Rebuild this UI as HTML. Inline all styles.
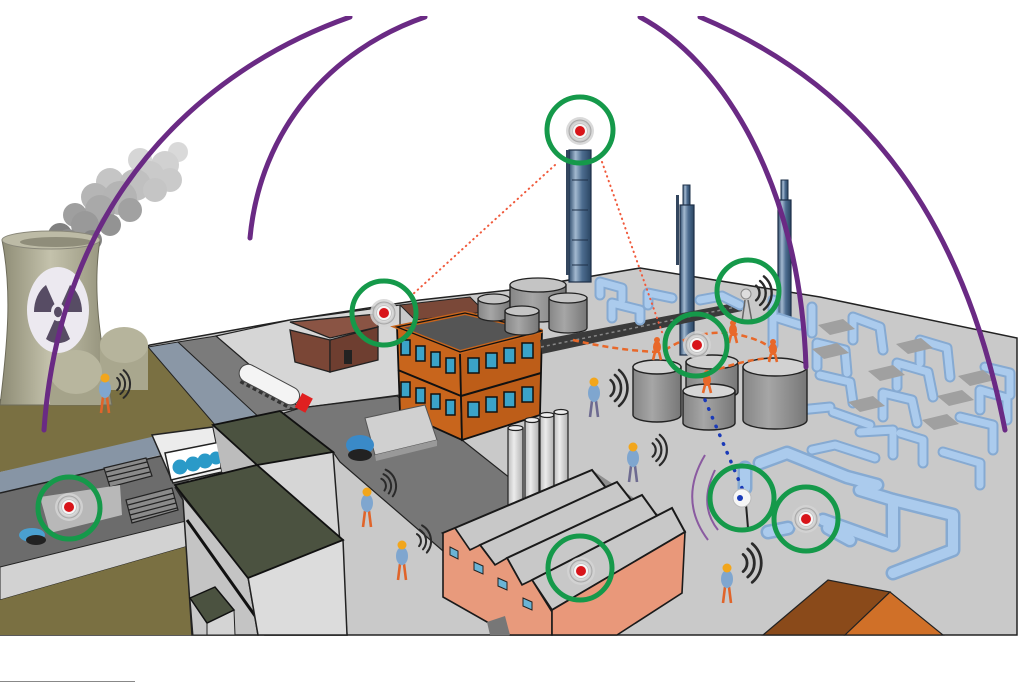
<!DOCTYPE html>
<html><head><meta charset="utf-8"><style>html,body{margin:0;padding:0;background:#fff;}svg{display:block}</style></head>
<body>
<svg width="1024" height="683" viewBox="0 0 1024 683" xmlns="http://www.w3.org/2000/svg">
<defs>
 <linearGradient id="tw" x1="0" x2="1"><stop offset="0" stop-color="#8d8b74"/><stop offset="0.45" stop-color="#c4c2ac"/><stop offset="1" stop-color="#8f8d76"/></linearGradient>
 <linearGradient id="col" x1="0" x2="1"><stop offset="0" stop-color="#2f4c6c"/><stop offset="0.3" stop-color="#a3b9d0"/><stop offset="0.6" stop-color="#4d6d90"/><stop offset="1" stop-color="#2a4562"/></linearGradient>
 <linearGradient id="cyl" x1="0" x2="1"><stop offset="0" stop-color="#868686"/><stop offset="0.4" stop-color="#a6a6a6"/><stop offset="1" stop-color="#777"/></linearGradient>
 <linearGradient id="chim" x1="0" x2="1"><stop offset="0" stop-color="#bdbdbd"/><stop offset="0.4" stop-color="#ececec"/><stop offset="1" stop-color="#b0b0b0"/></linearGradient>
 <radialGradient id="dev"><stop offset="0" stop-color="#fff"/><stop offset="0.6" stop-color="#eee"/><stop offset="1" stop-color="#c0c0c0"/></radialGradient>
 <g id="sig"><path d="M5.1,-6.1 A8,8 0 0,1 5.1,6.1 M8.4,-10 A13,13 0 0,1 8.4,10 M11.6,-13.8 A18,18 0 0,1 11.6,13.8" fill="none" stroke="#2a2a2a" stroke-width="2" stroke-linecap="round"/></g>
 <g id="dv"><circle r="14" fill="#d4d4d4" opacity="0.85"/><circle r="11" fill="url(#dev)" stroke="#a8a8a8" stroke-width="1"/><circle r="7.5" fill="#f6f6f6" stroke="#c4c4c4"/><circle r="5" fill="#d8141a"/></g>
 <g id="wo"><path d="M-2,-16 L-4,0 M2,-16 L4,0" stroke="#e0642a" stroke-width="2.6" fill="none"/><ellipse cx="0" cy="-24" rx="6" ry="9" fill="#7fa6cf"/><circle cx="0" cy="-35" r="4.5" fill="#f2a61c"/></g>
 <g id="wp"><path d="M-2,-16 L-4,0 M2,-16 L4,0" stroke="#6d6a90" stroke-width="2.6" fill="none"/><ellipse cx="0" cy="-24" rx="6" ry="9" fill="#7fa6cf"/><circle cx="0" cy="-35" r="4.5" fill="#f2a61c"/></g>
 <g id="wr"><path d="M-2,-8 L-4,0 M2,-8 L4,0" stroke="#e8682a" stroke-width="2.6" fill="none"/><ellipse cx="0" cy="-13" rx="4" ry="6" fill="#e8682a"/><circle cx="0" cy="-20" r="3" fill="#e8682a"/></g>
 <g id="pipes">
  <path d="M600,295 L600,282 L622,288 L622,300"/>
  <path d="M612,318 L612,303 L640,310 L640,320"/>
  <path d="M648,305 L648,293 L672,298"/>
  <path d="M700,300 L722,296 L740,305"/>
  <path d="M773,300 L773,345"/>
  <path d="M778,318 L800,325"/>
  <path d="M812,307 L812,333"/>
  <path d="M853,340 L853,317 L880,327 L883,350"/>
  <path d="M920,363 L920,340 L947,348 L950,377"/>
  <path d="M985,367 L1010,373 L1010,395"/>
  <path d="M817,367 L817,343 L845,350 L847,373"/>
  <path d="M897,387 L897,363 L928,372 L933,397"/>
  <path d="M980,410 L980,390 L1007,398 L1007,420"/>
  <path d="M820,375 L850,382 L853,403"/>
  <path d="M883,417 L883,393 L912,400 L917,423"/>
  <path d="M960,417 L993,425 L993,450"/>
  <path d="M800,410 L830,407"/>
  <path d="M833,412 L870,425"/>
  <path d="M860,432 L893,430 L893,455"/>
  <path d="M900,433 L923,440 L923,463"/>
  <path d="M943,452 L980,463 L980,485"/>
  <path d="M812,450 L835,445 L875,458"/>
  <path d="M780,365 L780,395 L800,400"/>
 </g>
 <g id="bpipes">
  <path d="M760,463 L787,453 L847,477 L877,485"/>
  <path d="M823,520 L893,545 L893,500 L953,515 L953,550 L893,573"/>
  <path d="M860,490 L893,500"/>
  <path d="M768,532 L788,528"/>
  <path d="M828,528 L850,540"/>
  <path d="M745,468 L745,488"/>
 </g>
</defs>

<!-- ground base -->
<polygon points="0,400 150,345 290,320 420,300 510,290 640,268 820,297 1017,338 1017,635 0,635" fill="#c9c9c9" stroke="#222" stroke-width="1.5"/>

<!-- left olive / roads -->
<polygon points="0,402 148,347 215,413 213,427 0,472" fill="#7a7042"/>
<polygon points="0,472 160,435 160,455 0,493" fill="#8795a5"/>
<polygon points="0,493 165,455 188,452 190,520 0,567" fill="#6c6c6c"/>
<polygon points="0,567 190,520 192,545 0,600" fill="#d2d2d2" stroke="#222" stroke-width="1"/>
<polygon points="0,600 192,545 197,635 0,635" fill="#7a7042"/>
<line x1="0" y1="493" x2="165" y2="455" stroke="#222" stroke-width="1.5"/>
<!-- stairs -->
<g stroke="#222" stroke-width="1.2">
 <polygon points="104,468 146,458 152,476 110,487" fill="#8a8a8a"/>
 <line x1="106" y1="472" x2="147" y2="462"/><line x1="107" y1="477" x2="149" y2="467"/><line x1="108" y1="482" x2="150" y2="472"/>
 <polygon points="126,500 172,488 178,510 132,523" fill="#8a8a8a"/>
 <line x1="128" y1="505" x2="174" y2="493"/><line x1="129" y1="510" x2="175" y2="498"/><line x1="130" y1="515" x2="176" y2="503"/><line x1="131" y1="520" x2="177" y2="508"/>
</g>
<!-- conveyor vehicle -->
<polygon points="40,497 120,485 122,515 50,533" fill="#b8b8b8"/>
<ellipse cx="32" cy="535" rx="13" ry="7" fill="#4aa0d0"/>
<ellipse cx="36" cy="540" rx="10" ry="5" fill="#222"/>

<!-- middle strips -->
<polygon points="148,347 178,342 262,420 215,425" fill="#8a97a6" stroke="#222" stroke-width="1"/>
<polygon points="178,342 216,336 300,408 280,411 262,420" fill="#7b7b7b" stroke="#222" stroke-width="1"/>
<polygon points="216,336 290,320 400,305 400,395 300,408" fill="#d6d6d6" stroke="#222" stroke-width="1.2"/>
<polygon points="262,420 300,408 397,396 462,440 510,478 510,560 450,557 340,462 333,452" fill="#777" stroke="#222" stroke-width="1.2"/>

<!-- brown building -->
<polygon points="400,305 470,297 485,312 415,320" fill="#7a4838" stroke="#222"/>
<polygon points="290,322 378,314 378,327 330,338" fill="#8a5444" stroke="#222" stroke-width="1.3"/>
<polygon points="290,330 330,340 330,372 295,362" fill="#7a4636" stroke="#222" stroke-width="1.3"/>
<polygon points="330,340 378,327 378,360 330,372" fill="#6e3e30" stroke="#222" stroke-width="1.3"/>
<rect x="344" y="350" width="8" height="14" fill="#222"/>

<!-- tanker truck -->
<g transform="translate(272,386) rotate(28)">
 <rect x="-36" y="-9" width="66" height="18" rx="9" fill="#f4f4f4" stroke="#444"/>
 <rect x="30" y="-8" width="12" height="16" fill="#e02020"/>
 <line x1="-30" y1="11" x2="30" y2="11" stroke="#333" stroke-width="3" stroke-dasharray="4 3"/>
</g>

<!-- orange building -->
<polygon points="397,327 460,352 462,440 400,412" fill="#c8651c" stroke="#111" stroke-width="1.8"/>
<polygon points="460,352 542,331 540,415 462,440" fill="#bd5d18" stroke="#111" stroke-width="1.8"/>
<polygon points="397,327 465,313 542,331 460,352" fill="#555" stroke="#c8651c" stroke-width="4"/>
<polygon points="397,327 465,313 542,331 460,352" fill="none" stroke="#111" stroke-width="1.3"/>
<line x1="398" y1="370" x2="461" y2="396" stroke="#111" stroke-width="2"/>
<line x1="461" y1="396" x2="541" y2="373" stroke="#111" stroke-width="2"/>
<g fill="#3ba3c8" stroke="#111" stroke-width="1.5">
 <rect x="401" y="340" width="9" height="15"/><rect x="416" y="346" width="9" height="15"/><rect x="431" y="352" width="9" height="15"/><rect x="446" y="358" width="9" height="15"/>
 <rect x="401" y="382" width="9" height="15"/><rect x="416" y="388" width="9" height="15"/><rect x="431" y="394" width="9" height="15"/><rect x="446" y="400" width="9" height="15"/>
 <rect x="468" y="358" width="11" height="15"/><rect x="486" y="353" width="11" height="15"/><rect x="504" y="348" width="11" height="15"/><rect x="522" y="343" width="11" height="15"/>
 <rect x="468" y="402" width="11" height="15"/><rect x="486" y="397" width="11" height="15"/><rect x="504" y="392" width="11" height="15"/><rect x="522" y="387" width="11" height="15"/>
</g>

<!-- gray truck -->
<polygon points="365,418 425,405 437,440 375,455" fill="#d0d0d0" stroke="#555"/>
<polygon points="375,455 437,440 437,446 376,461" fill="#999"/>
<ellipse cx="360" cy="445" rx="14" ry="10" fill="#3a8ac8"/>
<ellipse cx="360" cy="455" rx="12" ry="6" fill="#222"/>

<!-- cooling tower + smoke -->
<g opacity="0.95">
 <circle cx="178" cy="152" r="10" fill="#d8d8d8"/>
 <circle cx="165" cy="165" r="14" fill="#cfcfcf"/>
 <circle cx="140" cy="160" r="12" fill="#d4d4d4"/>
 <circle cx="170" cy="180" r="12" fill="#c8c8c8"/>
 <circle cx="150" cy="175" r="14" fill="#c8c8c8"/>
 <circle cx="110" cy="182" r="14" fill="#c2c2c2"/>
 <circle cx="135" cy="185" r="16" fill="#bdbdbd"/>
 <circle cx="155" cy="190" r="12" fill="#c2c2c2"/>
 <circle cx="95" cy="197" r="14" fill="#b2b2b2"/>
 <circle cx="120" cy="198" r="17" fill="#b0b0b0"/>
 <circle cx="100" cy="210" r="15" fill="#a5a5a5"/>
 <circle cx="130" cy="210" r="12" fill="#9c9c9c"/>
 <circle cx="75" cy="215" r="12" fill="#9a9a9a"/>
 <circle cx="85" cy="225" r="14" fill="#949494"/>
 <circle cx="110" cy="225" r="11" fill="#8e8e8e"/>
 <circle cx="60" cy="235" r="12" fill="#7a7a7a"/>
 <circle cx="68" cy="240" r="11" fill="#858585"/>
 <circle cx="92" cy="240" r="10" fill="#7e7e7e"/>
</g>
<path d="M2,240 C12,290 8,340 0,405 L112,405 C100,340 92,290 100,240 Z" fill="url(#tw)" stroke="#6e6c5a" stroke-width="1"/>
<ellipse cx="51" cy="240" rx="49" ry="9" fill="#bdbba6" stroke="#8a887a"/>
<ellipse cx="56" cy="242" rx="36" ry="5" fill="#8f8d7a"/>
<ellipse cx="58" cy="310" rx="31" ry="43" fill="#ece9f0"/>
<g transform="translate(58,312) scale(1,1.3)" fill="#574c64">
 <path d="M-24,0 A24,24 0 0,1 -12,-20.78 L-3.5,-6.06 A7,7 0 0,0 -7,0 Z"/>
 <path d="M12,-20.78 A24,24 0 0,1 24,0 L7,0 A7,7 0 0,0 3.5,-6.06 Z"/>
 <path d="M12,20.78 A24,24 0 0,1 -12,20.78 L-3.5,6.06 A7,7 0 0,0 3.5,6.06 Z"/>
 <circle r="4"/>
</g>
<rect x="100" y="345" width="48" height="45" fill="#a9a78e"/>
<ellipse cx="124" cy="345" rx="24" ry="18" fill="#b6b49c"/>
<rect x="50" y="372" width="52" height="33" fill="#a5a38a"/>
<ellipse cx="76" cy="372" rx="26" ry="22" fill="#b8b69e"/>
<use href="#wo" transform="translate(105,413)"/>
<use href="#sig" transform="translate(112,384)"/>

<!-- bridge building -->
<polygon points="152,435 213,427 222,472 173,483" fill="#ececec" stroke="#222" stroke-width="1.5"/>
<polygon points="165,453 220,442 221,468 171,480" fill="#fff" stroke="#222" stroke-width="1.5"/>
<g fill="#2a9ac8"><circle cx="180" cy="467" r="7.5"/><circle cx="193" cy="464" r="7.5"/><circle cx="205" cy="461" r="7.5"/><circle cx="216" cy="458" r="6.5"/></g>

<!-- green-roofed buildings -->
<polygon points="213,425 257,463 257,480 222,472" fill="#bcbcbc"/>
<polygon points="257,463 333,452 347,635 265,635" fill="#d6d6d6" stroke="#222" stroke-width="1.5"/>
<polygon points="213,425 280,411 333,452 257,465" fill="#4b5240" stroke="#111" stroke-width="1.8"/>
<polygon points="175,487 248,577 258,635 192,635 183,500" fill="#c4c4c4" stroke="#222" stroke-width="1.5"/>
<line x1="187" y1="520" x2="258" y2="620" stroke="#111" stroke-width="3"/>
<polygon points="248,577 343,540 347,635 258,635" fill="#dcdcdc" stroke="#222" stroke-width="1.5"/>
<polygon points="175,485 257,465 343,540 248,578" fill="#4b5240" stroke="#111" stroke-width="1.8"/>
<polygon points="190,598 207,623 207,635 193,635" fill="#c8c8c8" stroke="#222"/>
<polygon points="207,623 234,610 235,635 207,635" fill="#d4d4d4" stroke="#222"/>
<polygon points="190,598 215,587 234,610 207,623" fill="#4b5240" stroke="#111" stroke-width="1.5"/>

<!-- columns -->
<rect x="569" y="150" width="22" height="132" fill="url(#col)" stroke="#1e3048" stroke-width="1.2"/>
<g stroke="#1e3048" stroke-width="1"><line x1="572" y1="180" x2="588" y2="180"/><line x1="572" y1="210" x2="588" y2="210"/><line x1="572" y1="240" x2="588" y2="240"/><line x1="572" y1="265" x2="588" y2="265"/></g>
<rect x="566" y="150" width="3" height="125" fill="#33465e"/>
<rect x="683" y="185" width="7" height="22" fill="url(#col)" stroke="#1e3048"/>
<rect x="676" y="195" width="3" height="70" fill="#33465e"/>
<rect x="680" y="205" width="14" height="150" fill="url(#col)" stroke="#1e3048" stroke-width="1.2"/>
<rect x="781" y="180" width="7" height="22" fill="url(#col)" stroke="#1e3048"/>
<rect x="778" y="200" width="13" height="120" fill="url(#col)" stroke="#1e3048" stroke-width="1.2"/>

<!-- tanks back -->
<g stroke="#222" stroke-width="1.3">
 <path d="M478,299 L478,316 A16,5 0 0,0 510,316 L510,299 Z" fill="url(#cyl)"/><ellipse cx="494" cy="299" rx="16" ry="5" fill="#c4c4c4"/>
 <path d="M510,285 L510,315 A28,7 0 0,0 566,315 L566,285 Z" fill="url(#cyl)"/><ellipse cx="538" cy="285" rx="28" ry="7" fill="#c4c4c4"/>
 <path d="M505,311 L505,330 A17,5 0 0,0 539,330 L539,311 Z" fill="url(#cyl)"/><ellipse cx="522" cy="311" rx="17" ry="5" fill="#c4c4c4"/>
 <path d="M549,298 L549,328 A19,5 0 0,0 587,328 L587,298 Z" fill="url(#cyl)"/><ellipse cx="568" cy="298" rx="19" ry="5" fill="#c4c4c4"/>
</g>

<!-- conveyor -->
<polygon points="540,340 740,302 742,311 542,354" fill="#3a3a3a"/>
<line x1="541" y1="347" x2="741" y2="306" stroke="#888" stroke-width="1.5" stroke-dasharray="3 3"/>

<!-- pipes -->
<use href="#pipes" fill="none" stroke="#86aad2" stroke-width="11" stroke-linecap="round" stroke-linejoin="round"/>
<use href="#pipes" fill="none" stroke="#abcbed" stroke-width="7" stroke-linecap="round" stroke-linejoin="round"/>
<use href="#bpipes" fill="none" stroke="#86aad2" stroke-width="15" stroke-linecap="round" stroke-linejoin="round"/>
<use href="#bpipes" fill="none" stroke="#abcbed" stroke-width="10" stroke-linecap="round" stroke-linejoin="round"/>
<g fill="#a0a0a0">
 <polygon points="818,325 843,319 855,329 830,335"/><polygon points="812,349 837,343 849,353 824,359"/>
 <polygon points="868,371 893,365 905,375 880,381"/><polygon points="896,344 921,338 933,348 908,354"/>
 <polygon points="958,376 983,370 995,380 970,386"/><polygon points="937,396 962,390 974,400 949,406"/>
 <polygon points="848,402 873,396 885,406 860,412"/><polygon points="922,420 947,414 959,424 934,430"/>
</g>

<!-- big tanks -->
<g stroke="#222" stroke-width="1.4">
 <path d="M686,362 L686,392 A26,7 0 0,0 738,392 L738,362 Z" fill="url(#cyl)"/><ellipse cx="712" cy="362" rx="26" ry="7" fill="#cfcfcf"/>
 <path d="M633,367 L633,415 A24,7 0 0,0 681,415 L681,367 Z" fill="url(#cyl)"/><ellipse cx="657" cy="367" rx="24" ry="7" fill="#d2d2d2"/>
 <path d="M743,367 L743,420 A32,9 0 0,0 807,420 L807,367 Z" fill="url(#cyl)"/><ellipse cx="775" cy="367" rx="32" ry="9" fill="#d2d2d2"/>
 <path d="M683,391 L683,423 A26,7 0 0,0 735,423 L735,391 Z" fill="url(#cyl)"/><ellipse cx="709" cy="391" rx="26" ry="7" fill="#d6d6d6"/>
</g>
<g fill="none" stroke="#e8682a" stroke-width="2.5" stroke-dasharray="6 4">
 <path d="M573,340 Q615,350 657,352"/>
 <path d="M665,350 Q700,328 735,334 Q765,340 775,352"/>
 <path d="M700,376 Q740,360 770,358"/>
</g>
<use href="#wr" transform="translate(657,360)"/>
<use href="#wr" transform="translate(707,393)"/>
<use href="#wr" transform="translate(733,343)"/>
<use href="#wr" transform="translate(773,362)"/>
<line x1="705" y1="400" x2="742" y2="488" stroke="#1a3ab8" stroke-width="3.5" stroke-dasharray="0.5 9" stroke-linecap="round"/>

<!-- factory chimneys -->
<g stroke="#222" stroke-width="1.2">
 <rect x="508" y="428" width="15" height="80" fill="url(#chim)"/><ellipse cx="515.5" cy="428" rx="7.5" ry="2.5" fill="#eee"/>
 <rect x="525" y="420" width="14" height="80" fill="url(#chim)"/><ellipse cx="532" cy="420" rx="7" ry="2.5" fill="#eee"/>
 <rect x="540" y="415" width="14" height="80" fill="url(#chim)"/><ellipse cx="547" cy="415" rx="7" ry="2.5" fill="#eee"/>
 <rect x="554" y="412" width="14" height="80" fill="url(#chim)"/><ellipse cx="561" cy="412" rx="7" ry="2.5" fill="#eee"/>
</g>
<!-- factory -->
<polygon points="443,533 592,470 685,532 552,610" fill="#8e8e8e"/>
<g fill="#c8c8c8" stroke="#1a1a1a" stroke-width="2">
 <polygon points="443,533 592,470 610,493 470,550"/>
 <polygon points="480,545 617,482 635,505 495,565"/>
 <polygon points="507,558 642,495 660,520 522,585"/>
 <polygon points="532,580 672,508 685,532 552,610"/>
</g>
<polygon points="443,533 455,528 470,550 480,545 495,565 507,558 522,585 532,580 552,612 552,635 510,635 443,597" fill="#e89a7c" stroke="#1a1a1a" stroke-width="1.6"/>
<polygon points="552,610 685,532 682,593 617,635 552,635" fill="#e9987a" stroke="#1a1a1a" stroke-width="1.6"/>
<g fill="#6ab4d6" stroke="#222" stroke-width="1">
 <polygon points="450,547 458,551 458,559 450,555"/><polygon points="474,562 483,566 483,574 474,570"/>
 <polygon points="498,578 507,582 507,590 498,586"/><polygon points="523,598 532,602 532,610 523,606"/>
</g>
<polygon points="487,622 505,616 510,635 490,635" fill="#777"/>

<!-- brown roof bottom right -->
<polygon points="763,635 828,580 890,592 845,635" fill="#8a4a1a" stroke="#222" stroke-width="1.2"/>
<polygon points="845,635 890,592 943,635" fill="#d07028" stroke="#222" stroke-width="1.2"/>

<!-- workers -->
<use href="#wo" transform="translate(367,527)"/>
<use href="#sig" transform="translate(378,486) rotate(-15)"/>
<use href="#wo" transform="translate(402,580)"/>
<use href="#sig" transform="translate(413,541) rotate(-10)"/>
<use href="#wp" transform="translate(594,417)"/>
<use href="#sig" transform="translate(604,388) scale(1.3)"/>
<use href="#wp" transform="translate(633,482)"/>
<use href="#sig" transform="translate(647,450) scale(1.1)"/>
<use href="#wo" transform="translate(727,603)"/>
<use href="#sig" transform="translate(736,563) scale(1.4)"/>
<g fill="none" stroke="#8a5aa0" stroke-width="2"><path d="M705,455 Q678,500 708,540"/><path d="M715,470 Q698,505 718,530"/></g>

<!-- circle 3 figure -->
<g stroke="#666" stroke-width="1.5" fill="none"><path d="M745,300 L742,322 M748,300 L752,322"/></g>
<circle cx="746" cy="294" r="5" fill="#ddd" stroke="#888"/>
<use href="#sig" transform="translate(750,293) scale(1.2)"/>

<!-- dotted lines from top camera -->
<g stroke="#f05a3c" stroke-width="2" stroke-dasharray="0.5 4.5" stroke-linecap="round" fill="none">
 <line x1="555" y1="165" x2="412" y2="295"/>
 <line x1="602" y1="162" x2="663" y2="335"/>
</g>

<!-- devices -->
<use href="#dv" transform="translate(580,131)"/>
<use href="#dv" transform="translate(384,313)"/>
<use href="#dv" transform="translate(697,345)"/>
<use href="#dv" transform="translate(806,519)"/>
<use href="#dv" transform="translate(581,571)"/>
<use href="#dv" transform="translate(69,507)"/>
<line x1="746" y1="504" x2="748" y2="528" stroke="#222" stroke-width="2"/>
<circle cx="742" cy="498" r="9" fill="#f6f6f6" stroke="#bbb"/>
<circle cx="740" cy="498" r="3" fill="#1a3ab8"/>

<!-- green circles -->
<g fill="none" stroke="#15994a" stroke-width="5">
 <circle cx="580" cy="130" r="33"/>
 <circle cx="384" cy="313" r="32"/>
 <circle cx="748" cy="291" r="31"/>
 <circle cx="696" cy="345" r="31"/>
 <circle cx="742" cy="498" r="32"/>
 <circle cx="806" cy="519" r="32"/>
 <circle cx="580" cy="568" r="32"/>
 <circle cx="69" cy="508" r="31"/>
</g>

<!-- purple arcs -->
<g fill="none" stroke="#6a2a84" stroke-width="5" stroke-linecap="round">
 <path d="M350,17 C200,70 60,200 44,430"/>
 <path d="M425,17 C330,50 260,130 250,238"/>
 <path d="M640,17 C720,60 800,180 806,367"/>
 <path d="M700,17 C850,80 960,200 1005,430"/>
</g>

<!-- bottom clip -->
<rect x="0" y="636" width="1024" height="47" fill="#fff"/>
<rect x="0" y="0" width="1024" height="16" fill="#fff"/>
<line x1="0" y1="681.5" x2="135" y2="681.5" stroke="#888" stroke-width="1"/>
</svg>
</body></html>
